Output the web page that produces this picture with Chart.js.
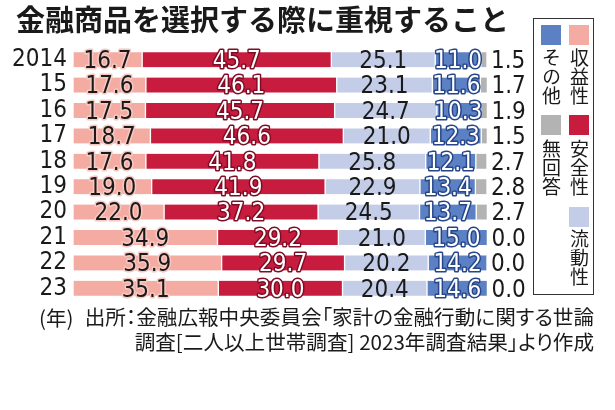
<!DOCTYPE html>
<html lang="ja">
<head>
<meta charset="utf-8">
<script src="https://cdn.jsdelivr.net/npm/chart.js@4.4.1/dist/chart.umd.min.js"></script>
<style>
  body { margin: 0; background: #fff; width: 615px; height: 410px; overflow: hidden; position: relative; font-family: 'Noto Sans CJK JP', sans-serif; color: #1a1a1a; }
  #cuadro { position: absolute; left: 0; top: 0; }
  .titulo { position: absolute; left: 16px; top: 4px; font-size: 29px; font-weight: bold; line-height: 1; white-space: nowrap; }
  .leyenda { position: absolute; left: 533px; top: 18px; width: 61px; height: 277px; border: 1.5px solid #333; box-sizing: border-box; }
  .cuadrito { position: absolute; width: 20px; height: 20px; }
  .vtexto { position: absolute; width: 20px; font-size: 19px; line-height: 19px; text-align: center; writing-mode: vertical-rl; }
  .pie { position: absolute; right: 21px; font-size: 20.6px; line-height: 1; white-space: nowrap; text-align: right; font-feature-settings: "palt"; }
  .anio { position: absolute; left: 39px; top: 307px; font-size: 20.6px; line-height: 1; font-feature-settings: "palt"; }
</style>
</head>
<body>
<canvas id="cuadro" width="615" height="410"></canvas>
<div class="titulo">金融商品を選択する際に重視すること</div>

<div class="leyenda">
  <div class="cuadrito" style="left:7px;top:6px;background:#5b80c3"></div>
  <div class="vtexto" style="left:7px;top:29px">その他</div>
  <div class="cuadrito" style="left:35px;top:6px;background:#f3aba2"></div>
  <div class="vtexto" style="left:35px;top:29px">収益性</div>
  <div class="cuadrito" style="left:7px;top:96px;background:#b3b3b3"></div>
  <div class="vtexto" style="left:7px;top:120px">無回答</div>
  <div class="cuadrito" style="left:35px;top:96px;background:#c81c3f"></div>
  <div class="vtexto" style="left:35px;top:120px">安全性</div>
  <div class="cuadrito" style="left:35px;top:188px;background:#c4cde7"></div>
  <div class="vtexto" style="left:35px;top:210px">流動性</div>
</div>

<div class="anio">(年)</div>
<div class="pie" style="top:306px">出所：金融広報中央委員会「家計の金融行動に関する世論</div>
<div class="pie" style="top:331px">調査[二人以上世帯調査] 2023年調査結果」より作成</div>

<script>
var anios = ['2014', '15', '16', '17', '18', '19', '20', '21', '22', '23'];
var nombresSeries = ['収益性', '安全性', '流動性', 'その他', '無回答'];

var shuueki  = [16.7, 17.6, 17.5, 18.7, 17.6, 19.0, 22.0, 34.9, 35.9, 35.1];
var anzen    = [45.7, 46.1, 45.7, 46.6, 41.8, 41.9, 37.2, 29.2, 29.7, 30.0];
var ryuudou  = [25.1, 23.1, 24.7, 21.0, 25.8, 22.9, 24.5, 21.0, 20.2, 20.4];
var sonota   = [11.0, 11.6, 10.3, 12.3, 12.1, 13.4, 13.7, 15.0, 14.2, 14.6];
var mukaitou = [1.5, 1.7, 1.9, 1.5, 2.7, 2.8, 2.7, 0.0, 0.0, 0.0];

var colores = ['#f3aba2', '#c81c3f', '#c4cde7', '#5b80c3', '#b3b3b3'];
// texto y contorno de cada etiqueta
var estiloEtiqueta = [
  { relleno: '#1a1a1a', borde: '#f8c9c2' },
  { relleno: '#ffffff', borde: '#7e0c24' },
  { relleno: '#1a1a1a', borde: null },
  { relleno: '#ffffff', borde: '#27468a' },
  { relleno: '#1a1a1a', borde: null }
];

var fuenteNum = "'Liberation Sans Narrow', 'DejaVu Sans Condensed', sans-serif";

var pluginEtiquetas = {
  id: 'etiquetas',
  afterDatasetsDraw: function (chart) {
    var ctx = chart.ctx;
    ctx.save();
    ctx.font = '24px ' + fuenteNum;
    ctx.textBaseline = 'middle';
    ctx.lineJoin = 'round';
    chart.data.datasets.forEach(function (ds, d) {
      var meta = chart.getDatasetMeta(d);
      meta.data.forEach(function (el, i) {
        var texto = ds.data[i].toFixed(1);
        var x, y = el.y + 2;
        if (d == 4) {
          ctx.textAlign = 'left';
          x = el.x + 4;
        } else {
          ctx.textAlign = 'center';
          x = (el.x + el.base) / 2;
        }
        var est = estiloEtiqueta[d];
        if (est.borde) {
          ctx.strokeStyle = est.borde;
          ctx.lineWidth = 3;
          ctx.strokeText(texto, x, y);
        }
        ctx.fillStyle = est.relleno;
        ctx.fillText(texto, x, y);
      });
    });
    ctx.restore();
  }
};

var series = [shuueki, anzen, ryuudou, sonota, mukaitou];
var conjuntos = series.map(function (valores, k) {
  return {
    label: nombresSeries[k],
    data: valores,
    backgroundColor: colores[k],
    borderColor: '#ffffff',
    borderWidth: { left: 1, right: 1, top: 0, bottom: 0 },
    borderSkipped: false,
    barThickness: 15
  };
});

var grafico = new Chart(document.getElementById('cuadro'), {
  type: 'bar',
  data: { labels: anios, datasets: conjuntos },
  options: {
    indexAxis: 'y',
    responsive: false,
    animation: false,
    layout: { padding: { left: 0, top: 47, right: 128, bottom: 109 } },
    plugins: { legend: { display: false }, tooltip: { enabled: false } },
    scales: {
      x: { stacked: true, min: 0, max: 100, display: false },
      y: {
        stacked: true,
        grid: { display: false, drawTicks: false },
        border: { display: false },
        ticks: { autoSkip: false, padding: 6, color: '#1a1a1a', font: { family: fuenteNum, size: 24 } },
        afterFit: function (escala) { escala.width = 73; }
      }
    }
  },
  plugins: [pluginEtiquetas]
});
</script>
</body>
</html>
